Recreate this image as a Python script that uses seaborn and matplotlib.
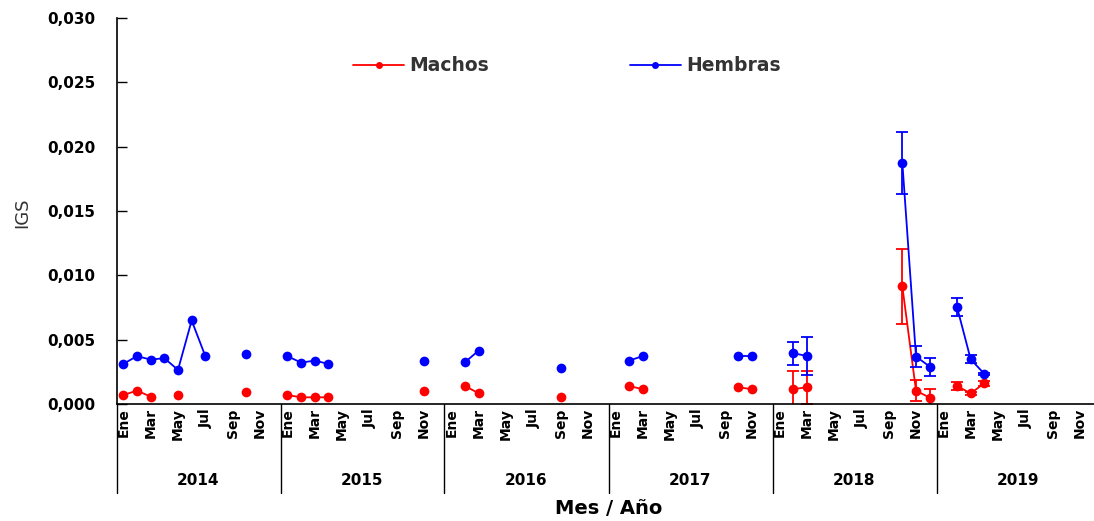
import numpy as np
import pandas as pd
import matplotlib
matplotlib.use("Agg")
import matplotlib.pyplot as plt
import seaborn as sns
from matplotlib.lines import Line2D
from matplotlib.ticker import FuncFormatter, FixedLocator

n = np.nan
anios = ["2014", "2015", "2016", "2017", "2018", "2019"]
meses = ["Ene", "Feb", "Mar", "Abr", "May", "Jun", "Jul", "Ago", "Sep", "Oct", "Nov", "Dic"]
etiquetas_mes = ["Ene", "Mar", "May", "Jul", "Sep", "Nov"]
yticks = [0.000, 0.005, 0.010, 0.015, 0.020, 0.025, 0.030]

machos = [
    0.0007, 0.00104, 0.00057, n, 0.0007, n, n, n, n, 0.00091, n, n,          # 2014
    0.0007, 0.00052, 0.00052, 0.00052, n, n, n, n, n, n, 0.00104, n,         # 2015
    n, 0.0014, 0.00083, n, n, n, n, n, 0.00057, n, n, n,                      # 2016
    n, 0.0014, 0.00115, n, n, n, n, n, n, 0.0013, 0.00115, n,                 # 2017
    n, 0.00115, 0.0013, n, n, n, n, n, n, 0.00914, 0.00104, 0.00049,          # 2018
    n, 0.0014, 0.00083, 0.00161, n, n, n, n, n, n, n, n,                      # 2019
]
hembras = [
    0.00312, 0.00372, 0.00345, 0.00356, 0.00265, 0.00649, 0.00372, n, n, 0.00392, n, n,  # 2014
    0.00372, 0.00322, 0.00337, 0.00312, n, n, n, n, n, n, 0.00337, n,                   # 2015
    n, 0.00325, 0.00415, n, n, n, n, n, 0.00278, n, n, n,                               # 2016
    n, 0.00337, 0.00372, n, n, n, n, n, n, 0.00372, 0.00372, n,                         # 2017
    n, 0.00395, 0.00374, n, n, n, n, n, n, 0.01876, 0.00369, 0.00291,                   # 2018
    n, 0.00754, 0.00348, 0.00234, n, n, n, n, n, n, n, n,                               # 2019
]
err_machos = [0] * 48 + [
    0, 0.0014, 0.0013, 0, 0, 0, 0, 0, 0, 0.0029, 0.0008, 0.0007,   # 2018
    0, 0.0003, 0.0001, 0.0002, 0, 0, 0, 0, 0, 0, 0, 0,             # 2019
]
err_hembras = [0] * 48 + [
    0, 0.0009, 0.0015, 0, 0, 0, 0, 0, 0, 0.0024, 0.0008, 0.0007,   # 2018
    0, 0.0007, 0.0003, 0.0001, 0, 0, 0, 0, 0, 0, 0, 0,             # 2019
]

colores = {"Machos": "#FF0000", "Hembras": "#0000FF"}

# Long-form table
rows = []
for sexo, vals, errs in [("Machos", machos, err_machos), ("Hembras", hembras, err_hembras)]:
    seg = 0
    prev_nan = True
    for i, v in enumerate(vals):
        if np.isnan(v):
            prev_nan = True
            continue
        if prev_nan:
            seg += 1
        prev_nan = False
        rows.append({"idx": i, "Anio": anios[i // 12], "Mes": meses[i % 12],
                     "IGS": v, "err": errs[i], "Sexo": sexo, "seg": f"{sexo}{seg}"})
df = pd.DataFrame(rows)

sns.set_theme(style="white")
plt.rcParams["font.family"] = ["DejaVu Sans"]

fig = plt.figure(figsize=(10.94, 5.21), dpi=100)
ax = fig.add_axes([116.5 / 1094, 117 / 521, 984 / 1094, 386 / 521])

for sexo in ["Machos", "Hembras"]:
    d = df[df["Sexo"] == sexo]
    c = colores[sexo]
    sns.lineplot(data=d, x="idx", y="IGS", units="seg", estimator=None,
                 color=c, marker="o", markersize=7, markeredgewidth=0,
                 linewidth=1.3, legend=False, ax=ax)
    de = d[d["err"] > 0]
    ax.errorbar(de["idx"], de["IGS"], yerr=de["err"], fmt="none", ecolor=c,
                elinewidth=1.3, capsize=4.5, capthick=1.3)

ax.set_xlim(-0.5, 71.5)
ax.set_ylim(0, 0.030)
ax.set_xlabel("")
ax.set_ylabel("")

xt = [y * 12 + m for y in range(len(anios)) for m in range(0, 12, 2)]
ax.xaxis.set_major_locator(FixedLocator(xt))
ax.set_xticklabels([etiquetas_mes[k % 6] for k in range(len(xt))],
                   rotation=90, fontsize=10, fontweight="bold")
ax.yaxis.set_major_locator(FixedLocator(yticks))
ax.yaxis.set_major_formatter(FuncFormatter(lambda v, p: f"{v:.3f}".replace(".", ",")))
for lab in ax.get_yticklabels():
    lab.set_fontweight("bold")
    lab.set_fontsize(11)

ax.tick_params(axis="x", length=0, pad=3, colors="black")
ax.tick_params(axis="y", direction="in", length=7, width=1, pad=15, colors="black", left=True)
for s in ["top", "right"]:
    ax.spines[s].set_visible(False)
for s in ["left", "bottom"]:
    ax.spines[s].set_color("black")
    ax.spines[s].set_linewidth(1.2)

# year separators and labels
tr = ax.get_xaxis_transform()
for k in range(len(anios) + 1):
    ax.plot([k * 12 - 0.5, k * 12 - 0.5], [0, -0.231], transform=tr,
            color="black", lw=1.0, clip_on=False)
for k, a in enumerate(anios):
    ax.text(k * 12 + 5.5, -0.197, a, transform=tr, ha="center", va="center",
            fontsize=11, fontweight="bold", color="black")

fig.text(608.5 / 1094, 1 - 509 / 521, "Mes / Año", ha="center", va="center",
         fontsize=14, fontweight="bold", color="black")
fig.text(22 / 1094, 1 - 213 / 521, "IGS", rotation=90, ha="center", va="center",
         fontsize=13, color="#333333")

handles = [Line2D([], [], color=colores[s], marker="o", markersize=5, lw=1.3,
                  markeredgewidth=0) for s in ["Machos", "Hembras"]]
leg = ax.legend(handles, ["Machos", "Hembras"], loc="center", bbox_to_anchor=(0.458, 0.876),
                ncol=2, frameon=False, handlelength=2.7, handletextpad=0.3,
                columnspacing=7.5, prop={"weight": "bold", "size": 13.5})
for t in leg.get_texts():
    t.set_color("#333333")

fig.savefig("out.png", dpi=100)
